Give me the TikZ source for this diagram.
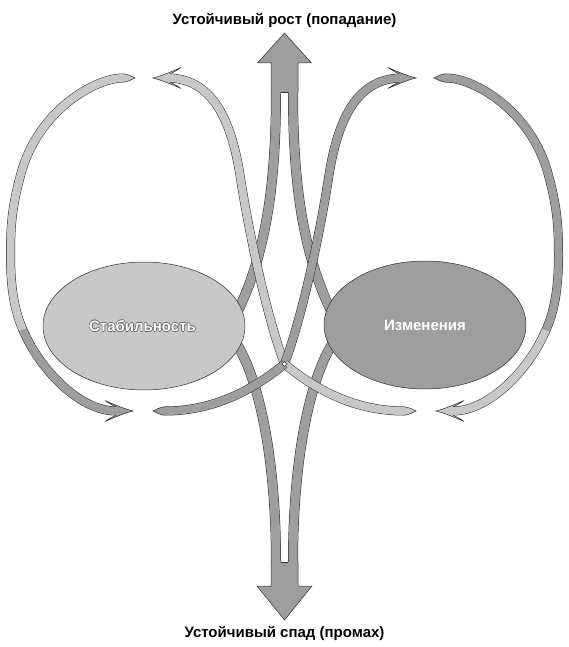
\documentclass[tikz,border=0pt]{standalone}
\usepackage{fontspec}
\setmainfont{Liberation Sans}
\usetikzlibrary{calc,shapes.geometric}
\definecolor{lightg}{HTML}{C8C8C8}
\definecolor{darkg}{HTML}{9E9E9E}
\definecolor{edge}{HTML}{2E2E2E}
\definecolor{contourg}{HTML}{6A6A6A}
\newcommand\outlinedtext[2]{%
  \leavevmode\rlap{\kern-.6pt\textcolor{#1}{#2}}%
  \rlap{\kern.6pt\textcolor{#1}{#2}}%
  \rlap{\raisebox{.6pt}{\textcolor{#1}{#2}}}%
  \rlap{\raisebox{-.6pt}{\textcolor{#1}{#2}}}%
  \rlap{\kern-.42pt\raisebox{.42pt}{\textcolor{#1}{#2}}}%
  \rlap{\kern.42pt\raisebox{.42pt}{\textcolor{#1}{#2}}}%
  \rlap{\kern-.42pt\raisebox{-.42pt}{\textcolor{#1}{#2}}}%
  \rlap{\kern.42pt\raisebox{-.42pt}{\textcolor{#1}{#2}}}%
  \textcolor{white}{#2}}
\tikzset{
  band/.style={line width=0.5pt, draw=edge, double distance=8pt, line cap=butt},
  lightband/.style={band, double=lightg},
  darkband/.style={band, double=darkg},
  stemband/.style={line width=0.5pt, draw=edge, double=darkg, double distance=9pt, line cap=butt},
  outline/.style={draw=edge, line width=0.5pt, line join=miter},
  blob/.style={ellipse, draw=edge, line width=0.5pt, minimum width=202pt, minimum height=128pt, inner sep=0pt,
     font=\bfseries\fontsize{15}{18}\selectfont},
  caption/.style={font=\bfseries\fontsize{15}{18}\selectfont, text=black},
  pics/ahead/.style={code={
    \fill[#1] (-17,-4.5) .. controls (-20,-5.5) and (-24,-7.5) .. (-28,-10.5)
      .. controls (-18,-6) and (-8,-2) .. (0,0)
      .. controls (-8,2) and (-18,6) .. (-28,10.5)
      .. controls (-24,7.5) and (-20,5.5) .. (-17,4.5) -- cycle;
    \draw[outline] (-17,-4.3) .. controls (-20,-5.5) and (-24,-7.5) .. (-28,-10.5)
      .. controls (-18,-6) and (-8,-2) .. (0,0)
      .. controls (-8,2) and (-18,6) .. (-28,10.5)
      .. controls (-24,7.5) and (-20,5.5) .. (-17,4.3);
  }},
  pics/taper/.style={code={
    \fill[#1] (-0.5,-4.5) -- (0,-4.5) .. controls (5,-4) and (8,-2) .. (12,0)
      .. controls (8,2) and (5,4) .. (0,4.5) -- (-0.5,4.5) -- cycle;
    \draw[outline] (0,-4.25) .. controls (5,-3.8) and (8,-1.8) .. (12,0)
      .. controls (8,1.8) and (5,3.8) .. (0,4.25);
  }},
}
\begin{document}
\begin{tikzpicture}[x=1pt,y=-1pt]
\useasboundingbox (0,0) rectangle (569,647);

% key points
\coordinate (C) at (284.5,364);
\coordinate (upL) at (276,92);
\coordinate (upR) at (293,92);
\coordinate (dnL) at (276,562);
\coordinate (dnR) at (293,562);

% stems from the ellipses to the central arrows
\draw[stemband] (upL) .. controls (276,200) and (262,270) .. (228,330);
\draw[stemband] (upR) .. controls (293,200) and (307,270) .. (341,330);
\draw[stemband] (226,330) .. controls (256,360) and (276,450) .. (dnL);
\draw[stemband] (343,330) .. controls (313,360) and (293,450) .. (dnR);

% up arrow head
\fill[darkg] (271,92) -- (271,63) -- (257.5,63) -- (284.5,33) -- (311.5,63) -- (298,63) -- (298,92) -- cycle;
\draw[outline] (271,92) -- (271,63) -- (257.5,63) -- (284.5,33) -- (311.5,63) -- (298,63) -- (298,92);
\draw[outline] (281,92) -- (288,92);
% down arrow head
\fill[darkg] (271,562) -- (271,586) -- (257,586) -- (284.5,620) -- (312,586) -- (298,586) -- (298,562) -- cycle;
\draw[outline] (271,562) -- (271,586) -- (257,586) -- (284.5,620) -- (312,586) -- (298,586) -- (298,562);
\draw[outline] (281,562) -- (288,562);

% ellipses
\node[blob, fill=lightg] (stab) at (144,326) {\outlinedtext{contourg}{Стабильность}\kern3pt};
\node[blob, fill=darkg, text=white] (chg) at (425,325) {Изменения};

% crossing bands
\draw[lightband] (170,78) .. controls (215,80) and (232,125) .. (240,175)
   .. controls (250,240) and (268,320) .. (C);
\draw[darkband] (399,78) .. controls (354,80) and (337,125) .. (329,175)
   .. controls (319,240) and (301,320) .. (C);
\draw[lightband] (C) .. controls (310,385) and (350,411) .. (404,411);
\draw[darkband] (C) .. controls (259,385) and (219,411) .. (165,411);
\filldraw[fill=white, draw=edge, line width=0.4pt] (284.5,361.5) -- (287,364) -- (284.5,366.5) -- (282,364) -- cycle;

\pic[rotate=180] at (153,78) {ahead=lightg};
\pic at (416,78) {ahead=darkg};
\pic at (404,411) {taper=lightg};
\pic[rotate=180] at (165,411) {taper=darkg};

% left loop
\draw[lightband] (123,78) .. controls (95,78) and (40,110) .. (22,170)
   .. controls (12,205) and (10.5,225) .. (10.5,255)
   .. controls (10.5,290) and (15,312) .. (23,330);
\draw[darkband] (23,330) .. controls (40,370) and (80,411) .. (116,411);
\pic at (123,78) {taper=lightg};
\pic at (133,411) {ahead=darkg};

% right loop
\draw[darkband] (446,78) .. controls (474,78) and (529,110) .. (547,170)
   .. controls (557,205) and (558.5,225) .. (558.5,255)
   .. controls (558.5,290) and (554,312) .. (546,330);
\draw[lightband] (546,330) .. controls (529,370) and (489,411) .. (453,411);
\pic[rotate=180] at (446,78) {taper=darkg};
\pic[rotate=180] at (436,411) {ahead=lightg};

% captions
\node[caption] (grow) at (284.5,20) {Устойчивый рост (попадание)};
\node[caption] (fall) at (284.5,633) {Устойчивый спад (промах)};
\end{tikzpicture}
\end{document}
